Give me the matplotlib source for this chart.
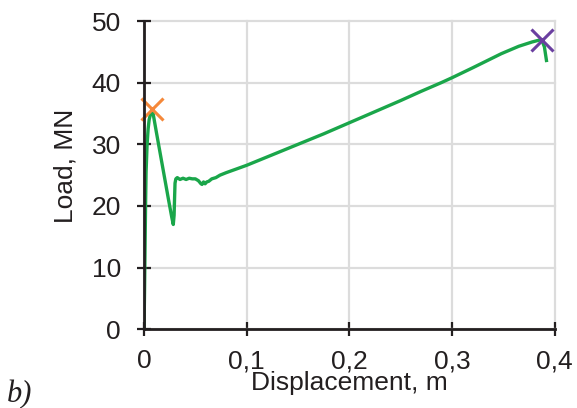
import matplotlib
matplotlib.use("Agg")
import matplotlib.pyplot as plt

# Data
disp = [0.0, 0.0005, 0.001, 0.0015, 0.002, 0.003, 0.004, 0.005, 0.0065, 0.0081,
        0.012, 0.016, 0.020, 0.024, 0.027, 0.0285, 0.0293, 0.0298, 0.0302, 0.031,
        0.0324, 0.035, 0.038, 0.041, 0.044, 0.047, 0.050, 0.053, 0.0555, 0.0565,
        0.058, 0.0595, 0.0611, 0.063, 0.066, 0.070, 0.074, 0.080, 0.090, 0.100,
        0.125, 0.150, 0.175, 0.200, 0.225, 0.250, 0.270, 0.2895, 0.300, 0.320,
        0.348, 0.365, 0.378, 0.3873, 0.390, 0.392]
load = [0.0, 6.0, 13.0, 20.0, 25.5, 30.0, 32.5, 34.0, 35.0, 35.7,
        32.0, 28.3, 24.6, 20.9, 18.2, 17.0, 18.5, 21.5, 23.7, 24.4,
        24.6, 24.3, 24.5, 24.3, 24.5, 24.4, 24.4, 24.1, 23.6, 23.5,
        23.9, 23.6, 23.9, 24.0, 24.4, 24.6, 25.0, 25.4, 26.0, 26.6,
        28.3, 30.0, 31.7, 33.5, 35.3, 37.1, 38.6, 40.0, 40.8, 42.4,
        44.7, 45.9, 46.6, 47.0, 45.8, 43.6]
first_peak = (0.0081, 35.7)
max_point = (0.3873, 47.0)

x_ticks = [0, 0.1, 0.2, 0.3, 0.4]
x_tick_labels = ["0", "0,1", "0,2", "0,3", "0,4"]
y_ticks = [0, 10, 20, 30, 40, 50]
y_tick_labels = ["0", "10", "20", "30", "40", "50"]

dark = "#231f20"
plt.rcParams['font.family'] = ['Liberation Sans', 'DejaVu Sans']

fig = plt.figure(figsize=(5.77, 4.08), dpi=100)
ax = fig.add_axes([0.2496, 0.1929, 0.9613 - 0.2496, 0.9485 - 0.1929])

ax.plot(disp, load, color="#1aa64a", lw=2.4, zorder=3, solid_joinstyle='round')
ax.plot(*first_peak, marker='x', color="#f5883a", ms=16, mew=2.2, ls='none', zorder=4, clip_on=False)
ax.plot(*max_point, marker='x', color="#6a3fa0", ms=16, mew=2.2, ls='none', zorder=4, clip_on=False)

ax.set_xlim(0, 0.4)
ax.set_ylim(0, 50)
ax.set_xticks(x_ticks)
ax.set_xticklabels(x_tick_labels)
ax.set_yticks(y_ticks)
ax.set_yticklabels(y_tick_labels)

ax.grid(True, color="#dcdcdc", lw=1.6, zorder=0)
for gl in ax.get_xgridlines() + ax.get_ygridlines():
    gl.set_clip_on(False)
ax.set_axisbelow(True)

for s in ['top', 'right']:
    ax.spines[s].set_visible(False)
for s in ['left', 'bottom']:
    ax.spines[s].set_color(dark)
    ax.spines[s].set_linewidth(2.0)
    ax.spines[s].set_zorder(5)

ax.tick_params(axis='both', direction='inout', length=10.5, width=1.6,
               color=dark, labelcolor=dark, labelsize=19)
ax.tick_params(axis='x', pad=9)
ax.tick_params(axis='y', pad=11.5)

fig.text(349 / 577, (408 - 390) / 408, "Displacement, m", ha='center', va='baseline',
         fontsize=19, color=dark)
fig.text(65 / 577, (408 - 166) / 408, "Load, MN", ha='center', va='center',
         rotation=90, fontsize=19, color=dark)
fig.text(7 / 577, (408 - 402) / 408, "b)", ha='left', va='baseline', fontsize=22,
         color=dark, family=['Liberation Serif', 'DejaVu Serif'], style='italic')

fig.savefig("out.png", dpi=100)
